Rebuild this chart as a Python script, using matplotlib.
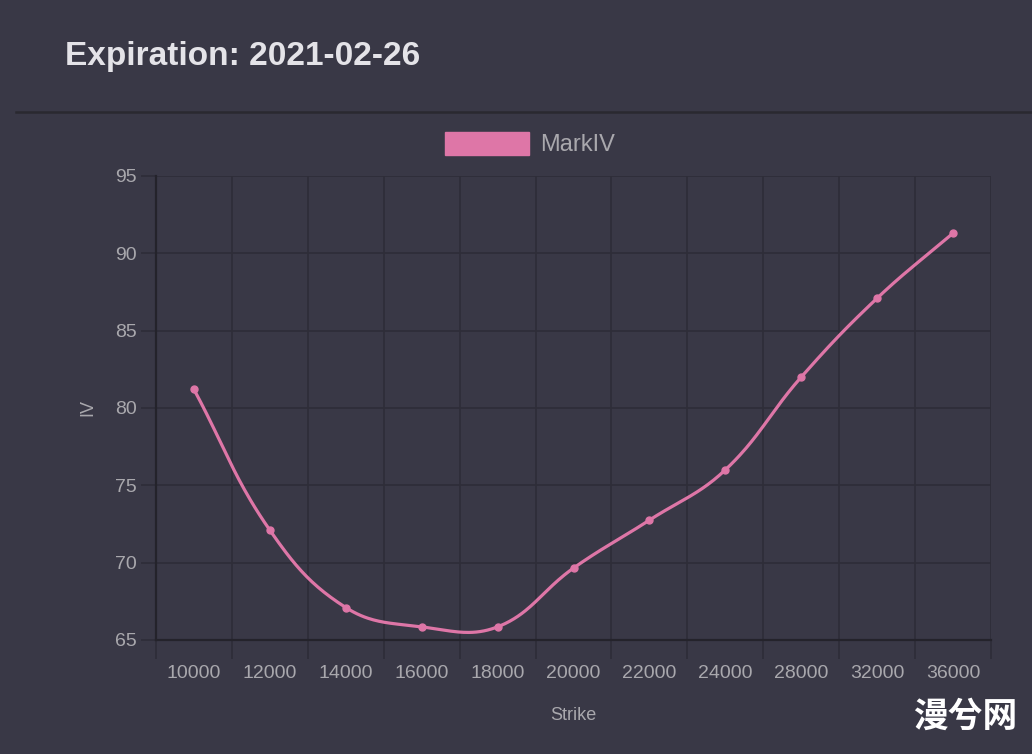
import numpy as np
import matplotlib
matplotlib.use("Agg")
import matplotlib.pyplot as plt
from matplotlib.patches import Patch
from matplotlib.lines import Line2D

strikes = ["10000", "12000", "14000", "16000", "18000", "20000",
           "22000", "24000", "28000", "32000", "36000"]
mark_iv = [81.2, 72.1, 67.1, 65.85, 65.85, 69.65, 72.75, 76.0, 82.0, 87.1, 91.3]
y_ticks = [65, 70, 75, 80, 85, 90, 95]

BG = "#393846"
GRID = "#2e2d38"
AXIS = "#24232b"
PINK = "#de76a7"
TXT = "#a9a8ad"

plt.rcParams["font.family"] = ["Liberation Sans", "DejaVu Sans"]

W, H = 1032, 754
fig = plt.figure(figsize=(W / 100, H / 100), dpi=100, facecolor=BG)
ax = fig.add_axes([156 / W, 1 - 640 / H, (991 - 156) / W, (640 - 176) / H])
ax.set_facecolor(BG)

n = len(strikes)
x = np.arange(n)
ax.set_xlim(-0.5, n - 0.5)
ax.set_ylim(65, 95)


def spline(px, py, t=0.4):
    # Chart.js style bezier control points (computed in pixel space)
    pts = np.column_stack([px, py])
    segs = []
    cps = []
    for i in range(len(pts)):
        prev = pts[i - 1] if i > 0 else pts[i]
        cur = pts[i]
        nxt = pts[i + 1] if i < len(pts) - 1 else pts[i]
        d01 = np.hypot(*(cur - prev))
        d12 = np.hypot(*(nxt - cur))
        s = d01 + d12 or 1.0
        fa, fb = t * d01 / s, t * d12 / s
        cps.append((cur - fa * (nxt - prev), cur + fb * (nxt - prev)))
    tt = np.linspace(0, 1, 40)[:, None]
    for i in range(len(pts) - 1):
        p0, p1, p2, p3 = pts[i], cps[i][1], cps[i + 1][0], pts[i + 1]
        segs.append((1 - tt) ** 3 * p0 + 3 * (1 - tt) ** 2 * tt * p1
                    + 3 * (1 - tt) * tt ** 2 * p2 + tt ** 3 * p3)
    return np.vstack(segs)


pix = ax.transData.transform(np.column_stack([x, mark_iv]))
curve = ax.transData.inverted().transform(spline(pix[:, 0], pix[:, 1]))
ax.plot(curve[:, 0], curve[:, 1], color=PINK, lw=2.3, solid_capstyle="round",
        zorder=3, clip_on=False)
ax.plot(x, mark_iv, "o", color=PINK, ms=5, zorder=4, clip_on=False)

# category ticks, grid on category boundaries
ax.set_xticks(x)
ax.set_xticklabels(strikes)
ax.set_xticks(np.arange(n + 1) - 0.5, minor=True)
ax.tick_params(axis="x", which="major", length=0, pad=18, labelsize=14,
               labelcolor=TXT)
ax.tick_params(axis="x", which="minor", length=14, width=1.2, color=GRID)
ax.set_yticks(y_ticks)
ax.tick_params(axis="y", length=11, width=1.2, color=GRID, pad=3,
               labelsize=14, labelcolor=TXT)
ax.grid(True, which="minor", axis="x", color=GRID, lw=1.2)
ax.grid(True, which="major", axis="y", color=GRID, lw=1.2)
ax.set_axisbelow(True)
for side in ("top", "right"):
    ax.spines[side].set_visible(False)
ax.spines["left"].set_color(AXIS)
ax.spines["bottom"].set_color(AXIS)
ax.spines["left"].set_linewidth(1.6)
ax.spines["bottom"].set_linewidth(1.6)

ax.set_xlabel("Strike", color=TXT, fontsize=13, labelpad=18)
ax.set_ylabel("IV", color=TXT, fontsize=13, labelpad=13)

fig.text(65 / W, 1 - 57 / H, "Expiration: 2021-02-26", color="#e4e3e8",
         fontsize=24, fontweight="bold", va="center", ha="left")
fig.add_artist(Line2D([16 / W, 1], [1 - 112 / H] * 2, color="#2a2930", lw=1.8))

ax.legend(handles=[Patch(facecolor=PINK, edgecolor=PINK, label="MarkIV")],
          loc="center", bbox_to_anchor=(530 / W, 1 - 144 / H),
          bbox_transform=fig.transFigure, frameon=False, fontsize=17,
          labelcolor=TXT, handlelength=3.56, handleheight=1.14,
          handletextpad=0.47)

fig.text(965 / W, 1 - 716 / H, "漫兮网", color="white", fontsize=25,
         fontweight="bold", ha="center", va="center",
         family=["Noto Sans CJK SC", "DejaVu Sans"])

fig.savefig("out.png", dpi=100, facecolor=BG)
